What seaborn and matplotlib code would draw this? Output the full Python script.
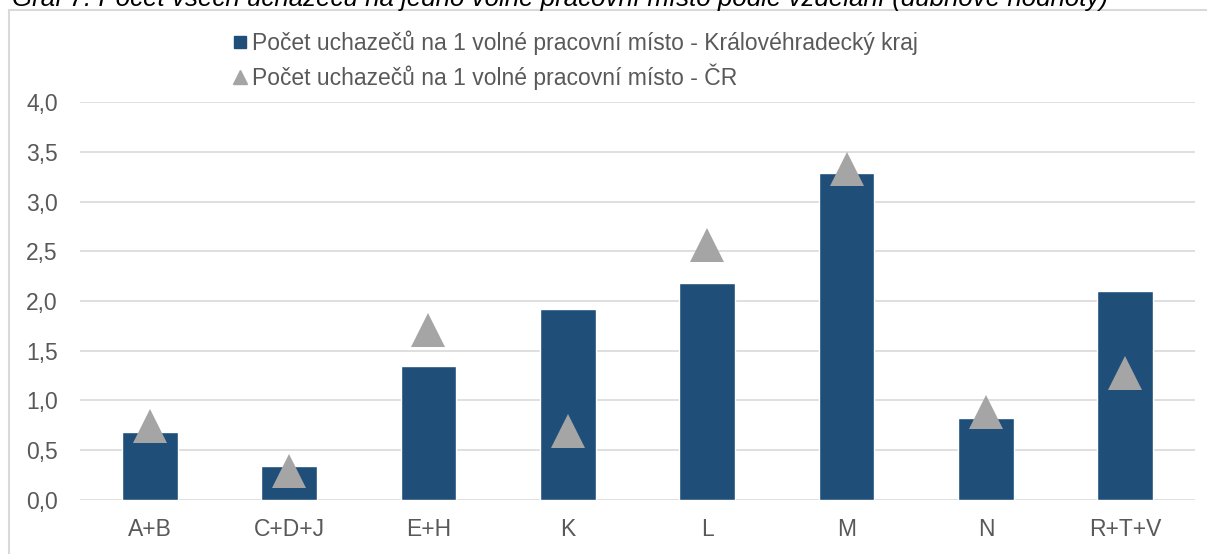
import numpy as np
import pandas as pd
import matplotlib
matplotlib.use("Agg")
import matplotlib.pyplot as plt
from matplotlib.patches import Rectangle
from matplotlib.lines import Line2D
from matplotlib.ticker import FuncFormatter
import seaborn as sns

#Data##########################################################################
categories = ["A+B", "C+D+J", "E+H", "K", "L", "M", "N", "R+T+V"]
kraj_values = [0.68, 0.34, 1.34, 1.92, 2.18, 3.29, 0.82, 2.10]
cr_values = [0.74, 0.285, 1.71, 0.685, 2.56, 3.33, 0.88, 1.27]

label_kraj = "Počet uchazečů na 1 volné pracovní místo - Královéhradecký kraj"
label_cr = "Počet uchazečů na 1 volné pracovní místo - ČR"
title = "Graf 7: Počet všech uchazečů na jedno volné pracovní místo podle vzdělání (dubnové hodnoty)"

df = pd.DataFrame({"kat": categories, "kraj": kraj_values, "cr": cr_values})

#Style#########################################################################
sns.set_theme(style="white")
plt.rcParams["font.family"] = ["Liberation Sans", "DejaVu Sans"]

bar_color = "#1F4E79"
tri_color = "#A5A5A5"
grid_color = "#D9D9D9"
text_color = "#595959"

fig = plt.figure(figsize=(12.07, 5.54), dpi=100)
ax = fig.add_axes([80 / 1207, 54.5 / 554, 1115 / 1207, 397.2 / 554])

#bars
sns.barplot(data=df, x="kat", y="kraj", color=bar_color, width=0.4,
            saturation=1, ax=ax, zorder=2)

#triangles
sns.pointplot(data=df, x="kat", y="cr", color=tri_color, linestyle="none",
              marker="^", markersize=24.5, errorbar=None, ax=ax, zorder=3)
for line in ax.lines:
    line.set_markeredgewidth(0)

ax.set_ylim(0, 4)
ax.set_xlim(-0.5, len(categories) - 0.5)
ax.set_yticks(np.arange(0, 4.01, 0.5))
ax.yaxis.set_major_formatter(FuncFormatter(lambda v, p: f"{v:.1f}".replace(".", ",")))
ax.yaxis.grid(True, color=grid_color, linewidth=1.2, zorder=0)
ax.set_axisbelow(True)
ax.set_xlabel("")
ax.set_ylabel("")
for s in ax.spines.values():
    s.set_visible(False)
ax.tick_params(axis="x", length=0, pad=13, labelsize=16.5, labelcolor=text_color)
ax.tick_params(axis="y", length=0, pad=16, labelsize=16.5, labelcolor=text_color)

#legend
handles = [
    Line2D([], [], linestyle="none", marker="s", markersize=8.5, color=bar_color),
    Line2D([], [], linestyle="none", marker="^", markersize=10, color=tri_color),
]
fig.legend(handles, [label_kraj, label_cr], loc="upper left",
           bbox_to_anchor=(224 / 1207, 1 - 21 / 554), frameon=False,
           fontsize=16.5, labelcolor=text_color, handlelength=0.6,
           handletextpad=0.2, labelspacing=0.4, borderaxespad=0)

#chart border and cut title
fig.patches.append(Rectangle((9 / 1207, -0.1), 1.2, (544 / 554) + 0.1,
                             transform=fig.transFigure, fill=False,
                             edgecolor=grid_color, linewidth=1.5))
fig.text(12 / 1207, 1 - 6 / 554, title, fontsize=18.6, style="italic",
         color="black", va="baseline", ha="left")

fig.savefig("out.png", dpi=100, facecolor="white")
